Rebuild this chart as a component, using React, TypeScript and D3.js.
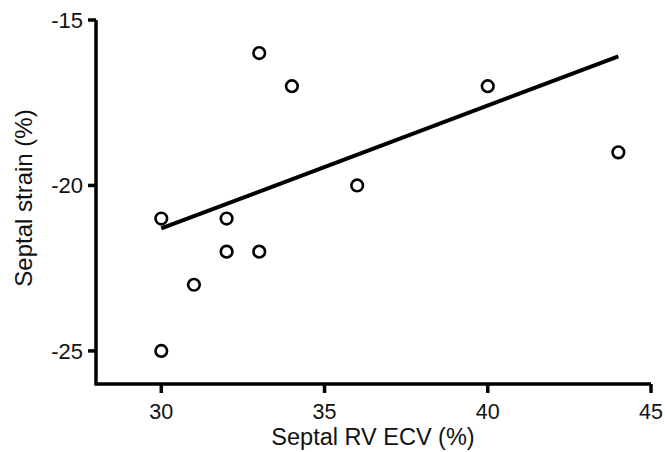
import React from "react";
import * as d3 from "d3";

const xTicks = [30, 35, 40, 45];
const yTicks = [-15, -20, -25];
const ecv = [30, 30, 31, 32, 32, 33, 33, 34, 36, 40, 44];
const strain = [-21, -25, -23, -21, -22, -16, -22, -17, -20, -17, -19];
const fitX = [30, 44];
const fitY = [-21.3, -16.1];

const W = 665;
const H = 452;

export default function App() {
  const x = d3.scaleLinear().domain([28, 45]).range([96, 651]);
  const y = d3.scaleLinear().domain([-26, -15]).range([384, 20]);
  const line = d3
    .line<number>()
    .x((d) => x(fitX[d]))
    .y((d) => y(fitY[d]));
  const font = "Liberation Sans, Arial, sans-serif";
  const x0 = x(28);
  const y0 = y(-26);
  return (
    <svg
      width={W}
      height={H}
      style={{ position: "absolute", left: 0, top: 0, background: "#fff" }}
      fontFamily={font}
    >
      <rect width={W} height={H} fill="#fff" />
      {/* axes */}
      <path
        d={`M${x0},${y(-15)}V${y0}H${x(45)}`}
        fill="none"
        stroke="#000"
        strokeWidth={3.5}
        strokeLinejoin="miter"
      />
      {yTicks.map((t) => (
        <g key={t}>
          <line x1={x0 - 8} x2={x0} y1={y(t)} y2={y(t)} stroke="#000" strokeWidth={3.5} />
          <text x={x0 - 13} y={y(t)} dy="0.36em" textAnchor="end" fontSize={22} fill="#111">
            {t}
          </text>
        </g>
      ))}
      {xTicks.map((t) => (
        <g key={t}>
          <line x1={x(t)} x2={x(t)} y1={y0} y2={y0 + 9} stroke="#000" strokeWidth={3.5} />
          <text x={x(t)} y={y0 + 34.5} textAnchor="middle" fontSize={21.5} fill="#111">
            {t}
          </text>
        </g>
      ))}
      <text x={373} y={445} textAnchor="middle" fontSize={23.5} fill="#111">
        Septal RV ECV (%)
      </text>
      <text
        transform={`translate(32,${198}) rotate(-90)`}
        textAnchor="middle"
        fontSize={24}
        fill="#111"
      >
        Septal strain (%)
      </text>
      {/* regression line */}
      <path d={line([0, 1]) || ""} fill="none" stroke="#000" strokeWidth={4} />
      {/* points */}
      {ecv.map((v, i) => (
        <circle
          key={i}
          cx={x(v)}
          cy={y(strain[i])}
          r={5.8}
          fill="#fff"
          stroke="#000"
          strokeWidth={2.6}
        />
      ))}
    </svg>
  );
}
